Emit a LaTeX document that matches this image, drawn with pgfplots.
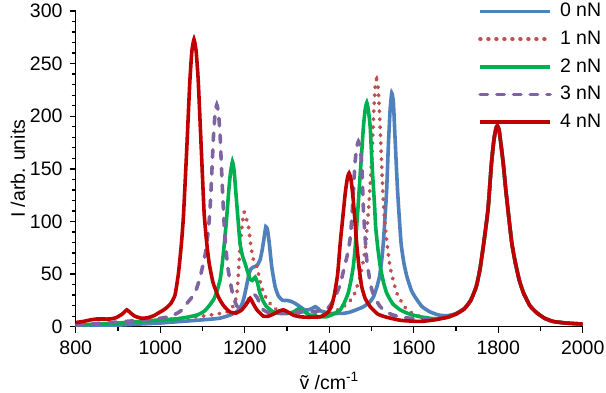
\documentclass[border=0pt]{standalone}
\usepackage{fontspec}
\setmainfont{Liberation Sans}
\usepackage{pgfplots}
\pgfplotsset{compat=1.18}
\definecolor{cblue}{RGB}{79,129,189}
\definecolor{cdot}{RGB}{192,80,77}
\definecolor{cgreen}{RGB}{0,176,80}
\definecolor{cpurple}{RGB}{128,100,162}
\definecolor{cred}{RGB}{192,0,0}
\begin{document}
\fontsize{19.5}{23}\selectfont
\begin{tikzpicture}
\useasboundingbox (-75.7pt,-65.3pt) rectangle (530.3pt,326.7pt);
\begin{axis}[
  at={(0pt,0pt)}, anchor=south west,
  scale only axis, width=507pt, height=315.7pt,
  xmin=800, xmax=2000, ymin=0, ymax=300,
  axis x line*=bottom, axis y line*=left,
  axis line style={line width=1.3pt, black},
  xtick={800,1000,...,2000}, ytick={0,50,...,300},
  minor x tick num=1, minor y tick num=4,
  tick align=outside, major tick length=6pt, minor tick length=4pt,
  every tick/.style={line width=1.3pt, black},
  every minor tick/.style={line width=1.3pt, black},
  /pgf/number format/assume math mode=true,
  /pgf/number format/1000 sep={},
  ticklabel style={font=\fontsize{19.5}{23}\selectfont, inner sep=0pt},
  yticklabel style={xshift=-7pt},
  xticklabel style={yshift=-8pt},
  xlabel={\~{v} /cm\textsuperscript{-1}},
  ylabel={I /arb. units},
  label style={font=\fontsize{19.5}{23}\selectfont},
  xlabel style={at={(axis description cs:0.5,-0.172)}, anchor=center},
  ylabel style={at={(axis description cs:-0.1138,0.5)}, anchor=center},
  legend cell align=left,
  legend style={at={(axis description cs:0.7935,1.0253)}, anchor=north west,
    draw=none, fill=none, inner sep=0pt, row sep=11.2pt, column sep=8pt,
    nodes={inner sep=0pt}, font=\fontsize{19.5}{23}\selectfont},
  legend image code/.code={\draw[#1] (0pt,0pt) -- (70pt,0pt);},
  every axis plot/.append style={smooth, tension=0.3},
]
\addplot[cblue, line width=3.6pt] coordinates {
(800,0.5)(850,1)(900,1.5)(950,2.5)(1000,3.5)(1050,5)(1100,6.5)(1140,8)(1165,11)(1180,14)(1188,17)(1193,21)(1198,27)(1204,38)(1210,50)(1215,55)(1222,57)(1229,58)(1236,63)(1241,72)(1245,82)(1250,95)(1254,92)(1258,80)(1264,57)(1272,38)(1280,29)(1290,25)(1300,25)(1310,24)(1320,22)(1331,19)(1342,16)(1351,16)(1360,17.5)(1367,19)(1373,17.5)(1380,15)(1402,12.7)(1434,12.7)(1450,14)(1470,17)(1481,19)(1495,23)(1505,28.5)(1513,38)(1519,47.5)(1524,62)(1528,79)(1532,103)(1536,130)(1540,172)(1544,205)(1548,222)(1552,213)(1556,178)(1562,128)(1570,80)(1577,60)(1584,47.5)(1595,34)(1607,26)(1620,19)(1639,14)(1660,11)(1680,10.5)(1700,12.5)(1720,17.5)(1735,25.5)(1748,38)(1757,55)(1766,80)(1776,112)(1784,155)(1790,178)(1795,189)(1798,191)(1802,187)(1806,175)(1812,155)(1818,130)(1824,108)(1832,80)(1840,62)(1850,44)(1860,32)(1875,20)(1892,13)(1910,8)(1930,5)(1960,3.5)(2000,2.5)
};
\addlegendentry{0 nN}
\addplot[cdot, line width=3.8pt, line cap=round, dash pattern=on 0.6pt off 7.4pt] coordinates {
(800,1.5)(850,2.5)(900,3.5)(950,4.5)(1000,6)(1050,8)(1100,10)(1140,12.5)(1165,15)(1173,20)(1178,25)(1182,33)(1185,50)(1189,76)(1193,93)(1198,109)(1203,104)(1209,95)(1214,79)(1219,66)(1224,60)(1229,57)(1236,44)(1244,33)(1256,24)(1276,16)(1307,13)(1347,13)(1394,11)(1410,14)(1434,19)(1457,28.5)(1473,47.5)(1485,73)(1493,111)(1497,135)(1501,160)(1505,200)(1509,229)(1512,235)(1516,226)(1520,195)(1524,155)(1528,120)(1534,89)(1544,57)(1560,32)(1584,16)(1615,9.5)(1650,7.5)(1680,9)(1700,12)(1720,17)(1735,25)(1748,38)(1757,55)(1766,80)(1776,112)(1784,155)(1790,178)(1795,189)(1798,191)(1802,187)(1806,175)(1812,155)(1818,130)(1824,108)(1832,80)(1840,62)(1850,44)(1860,32)(1875,20)(1892,13)(1910,8)(1930,5)(1960,3.5)(2000,2.5)
};
\addlegendentry{1 nN}
\addplot[cgreen, line width=3.6pt] coordinates {
(800,1.5)(850,2.5)(900,3.5)(950,5)(1000,6.5)(1040,7.5)(1070,9.5)(1090,11.5)(1105,15)(1118,21)(1128,27)(1136,36)(1142,45)(1147,60)(1152,80)(1157,102)(1162,128)(1166,145)(1171,157)(1175,148)(1179,128)(1183,108)(1189,79)(1195,67)(1201,60)(1207,52)(1213,45)(1218,44)(1225,47)(1230,42)(1236,32)(1244,24)(1252,19)(1268,14)(1285,12.5)(1300,12.5)(1315,14)(1330,17.5)(1342,14)(1355,11)(1375,9.5)(1394,9.5)(1410,12)(1426,16)(1436,23)(1445,32)(1451,43)(1457,57)(1461,73)(1465,95)(1469,118)(1473,143)(1477,166)(1481,190)(1485,206)(1489,213)(1493,205)(1497,190)(1500,166)(1503,143)(1507,118)(1510,95)(1515,75)(1521,57)(1528,43)(1536,32)(1550,22)(1568,16)(1590,12)(1615,9.5)(1650,7.5)(1680,9)(1700,12)(1720,17)(1735,25)(1748,38)(1757,55)(1766,80)(1776,112)(1784,155)(1790,178)(1795,189)(1798,191)(1802,187)(1806,175)(1812,155)(1818,130)(1824,108)(1832,80)(1840,62)(1850,44)(1860,32)(1875,20)(1892,13)(1910,8)(1930,5)(1960,3.5)(2000,2.5)
};
\addlegendentry{2 nN}
\addplot[cpurple, line width=3.6pt, line cap=round, dash pattern=on 7.5pt off 9.2pt] coordinates {
(800,1.5)(850,3)(900,4.5)(950,6)(1000,8)(1025,10)(1041,13)(1055,17)(1063,22)(1075,28)(1086,36)(1095,48)(1102,60)(1108,72)(1114,92)(1118,112)(1122,145)(1126,180)(1130,203)(1134,211)(1138,203)(1142,180)(1146,142)(1151,100)(1156,72)(1161,54)(1167,40)(1173,28.5)(1181,20)(1189,17)(1197,19)(1207,24)(1217,32)(1222,31)(1229,28)(1236,22)(1244,16)(1256,13.5)(1268,13)(1300,13)(1331,14)(1355,14)(1375,15)(1386,16)(1400,19)(1410,25)(1418,32)(1426,40)(1432,50)(1438,60)(1444,70)(1449,82)(1453,100)(1457,127)(1461,155)(1465,170)(1469,176)(1473,170)(1477,155)(1481,111)(1485,85)(1489,63)(1495,47)(1501,35)(1510,26)(1521,19)(1535,14)(1552,11)(1580,8.5)(1615,7.5)(1650,7.5)(1680,9)(1700,12)(1720,17)(1735,25)(1748,38)(1757,55)(1766,80)(1776,112)(1784,155)(1790,178)(1795,189)(1798,191)(1802,187)(1806,175)(1812,155)(1818,130)(1824,108)(1832,80)(1840,62)(1850,44)(1860,32)(1875,20)(1892,13)(1910,8)(1930,5)(1960,3.5)(2000,2.5)
};
\addlegendentry{3 nN}
\addplot[cred, line width=3.6pt] coordinates {
(800,4)(818,5)(835,6.5)(850,7.3)(880,7.3)(895,8.5)(910,12)(921,16)(930,13)(940,10)(956,8)(970,8.5)(985,10.5)(1000,14)(1012,17)(1025,22)(1035,30)(1043,50)(1050,78)(1055,105)(1063,170)(1070,232)(1075,262)(1080,273)(1085,262)(1090,234)(1097,171)(1104,108)(1110,80)(1116,60)(1125,42)(1138,28)(1150,20)(1165,14)(1180,13)(1193,16)(1205,22)(1213,27)(1220,22)(1229,16)(1244,10)(1256,10)(1268,12)(1282,15)(1292,16)(1302,14)(1315,11)(1330,9.5)(1350,9)(1380,9.5)(1395,13)(1405,19)(1412,30)(1420,50)(1426,79)(1432,103)(1438,127)(1443,141)(1447,146)(1452,139)(1457,120)(1461,100)(1465,79)(1471,55)(1477,38)(1485,27)(1497,19)(1515,12)(1536,9)(1570,6)(1615,5)(1650,6.5)(1680,9)(1700,12)(1720,17)(1735,25)(1748,38)(1757,55)(1766,80)(1776,112)(1784,155)(1790,178)(1795,189)(1798,191)(1802,187)(1806,175)(1812,155)(1818,130)(1824,108)(1832,80)(1840,62)(1850,44)(1860,32)(1875,20)(1892,13)(1910,8)(1930,5)(1960,3.5)(2000,2.5)
};
\addlegendentry{4 nN}
\end{axis}
\end{tikzpicture}
\end{document}
